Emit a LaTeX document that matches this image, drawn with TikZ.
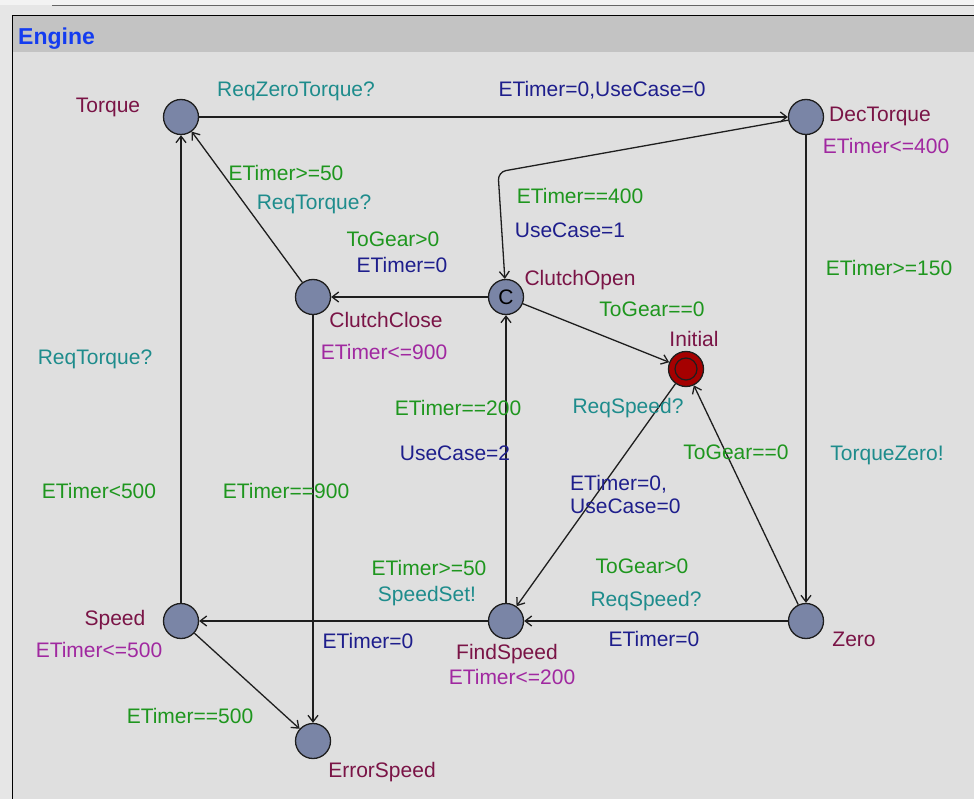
\documentclass[tikz,border=0pt]{standalone}
\usepackage{fontspec}
\setmainfont{Liberation Sans}
\usetikzlibrary{arrows.meta}
\definecolor{pagebg}{RGB}{230,230,230}
\definecolor{stripbg}{RGB}{243,243,243}
\definecolor{barbg}{RGB}{195,195,195}
\definecolor{bodybg}{RGB}{223,223,223}
\definecolor{locfill}{RGB}{122,133,166}
\definecolor{initred}{RGB}{165,0,0}
\definecolor{titleblue}{RGB}{20,60,240}
\definecolor{namecol}{RGB}{122,20,70}
\definecolor{invcol}{RGB}{160,40,160}
\definecolor{guardcol}{RGB}{30,150,30}
\definecolor{synccol}{RGB}{30,140,140}
\definecolor{updcol}{RGB}{30,30,140}
\definecolor{edgecol}{RGB}{30,30,30}
\begin{document}
\begin{tikzpicture}[x=1pt,y=-1pt,
  loc/.style={circle,draw=edgecol,line width=1.3pt,fill=locfill,minimum size=35pt,inner sep=0pt},
  trans/.style={draw=edgecol,line width=1.3pt,-{Straight Barb[length=6.5pt,width=10pt]}},
  txt/.style={font=\fontsize{21}{23}\selectfont,inner sep=0pt,text height=15pt,text depth=0pt},
  lname/.style={txt,text=namecol},
  inv/.style={txt,text=invcol},
  guard/.style={txt,text=guardcol},
  sync/.style={txt,text=synccol},
  upd/.style={txt,text=updcol}]

% window background and frame
\useasboundingbox (0,0) rectangle (974,799);
\fill[pagebg] (0,0) rectangle (974,799);
\fill[stripbg] (0,0) rectangle (974,5);
\draw[gray!80!black,line width=1pt] (52,5.5) -- (974,5.5);
\fill[barbg] (12,15) rectangle (974,52);
\fill[bodybg] (12,52) rectangle (974,799);
\draw[black,line width=1.5pt] (12.5,799) -- (12.5,15.5) -- (974,15.5);
\node[font=\fontsize{23}{25}\selectfont\bfseries,text=titleblue,anchor=west,inner sep=0pt,text height=16pt,text depth=0pt] (title) at (18,37) {Engine};

% locations
\node[loc] (torque) at (181,117) {};
\node[loc] (dec) at (806,117) {};
\node[loc] (copen) at (506,297) {\fontsize{21}{23}\selectfont C};
\node[loc] (cclose) at (313,297) {};
\node[loc,fill=initred] (init) at (686,369) {};
\draw[edgecol,line width=1.2pt] (init.center) circle (11);
\node[loc] (speed) at (181,621) {};
\node[loc] (find) at (506,621) {};
\node[loc] (zero) at (806,621) {};
\node[loc] (err) at (313,741) {};

% location names and invariants
\node[lname] (nTorque) at (108,105) {Torque};
\node[lname] (nDec) at (880,114) {DecTorque};
\node[inv] (iDec) at (886,146) {ETimer<=400};
\node[lname] (nCopen) at (580,278) {ClutchOpen};
\node[lname] (nCclose) at (386,320) {ClutchClose};
\node[inv] (iCclose) at (384,352) {ETimer<=900};
\node[lname] (nInit) at (694,339) {Initial};
\node[lname] (nSpeed) at (115,618) {Speed};
\node[inv] (iSpeed) at (99,650) {ETimer<=500};
\node[lname] (nFind) at (507,652) {FindSpeed};
\node[inv] (iFind) at (512,677) {ETimer<=200};
\node[lname] (nZero) at (854,639) {Zero};
\node[lname] (nErr) at (382,770) {ErrorSpeed};

% transitions
\coordinate (bend) at (498,172);
\draw[trans] (torque) -- (dec);
\draw[trans,rounded corners=8pt] (dec) -- (bend) -- (copen);
\draw[trans] (dec) -- (zero);
\draw[trans] (zero) -- (find);
\draw[trans] (zero) -- (init);
\draw[trans] (init) -- (find);
\draw[trans] (copen) -- (init);
\draw[trans] (copen) -- (cclose);
\draw[trans] (find) -- (copen);
\draw[trans] (find) -- (speed);
\draw[trans] (cclose) -- (torque);
\draw[trans] (cclose) -- (err);
\draw[trans] (speed) -- (torque);
\draw[trans] (speed) -- (err);

% transition labels
\node[sync] (l1) at (296,89) {ReqZeroTorque?};
\node[upd] (l2) at (602,89) {ETimer=0,UseCase=0};
\node[guard] (l3) at (580,196) {ETimer==400};
\node[upd] (l4) at (570,230) {UseCase=1};
\node[guard] (l5) at (889,268) {ETimer>=150};
\node[sync] (l6) at (887,453) {TorqueZero!};
\node[guard] (l7) at (393,239) {ToGear>0};
\node[upd] (l8) at (402,265) {ETimer=0};
\node[guard] (l9) at (286,173) {ETimer>=50};
\node[sync] (l10) at (314,202) {ReqTorque?};
\node[guard] (l11) at (652,309) {ToGear==0};
\node[sync] (l12) at (95,357) {ReqTorque?};
\node[guard] (l13) at (458,408) {ETimer==200};
\node[upd] (l14) at (455,453) {UseCase=2};
\node[sync] (l15) at (628,406) {ReqSpeed?};
\node[guard] (l16) at (736,452) {ToGear==0};
\node[upd,anchor=west] (l17) at (570,483) {ETimer=0,};
\node[upd,anchor=west] (l18) at (570,506) {UseCase=0};
\node[guard] (l19) at (99,491) {ETimer<500};
\node[guard] (l20) at (286,491) {ETimer==900};
\node[guard] (l21) at (429,568) {ETimer>=50};
\node[sync] (l22) at (427,594) {SpeedSet!};
\node[guard] (l23) at (642,566) {ToGear>0};
\node[sync] (l24) at (646,599) {ReqSpeed?};
\node[upd] (l25) at (368,641) {ETimer=0};
\node[upd] (l26) at (654,639) {ETimer=0};
\node[guard] (l27) at (190,716) {ETimer==500};
\end{tikzpicture}
\end{document}
